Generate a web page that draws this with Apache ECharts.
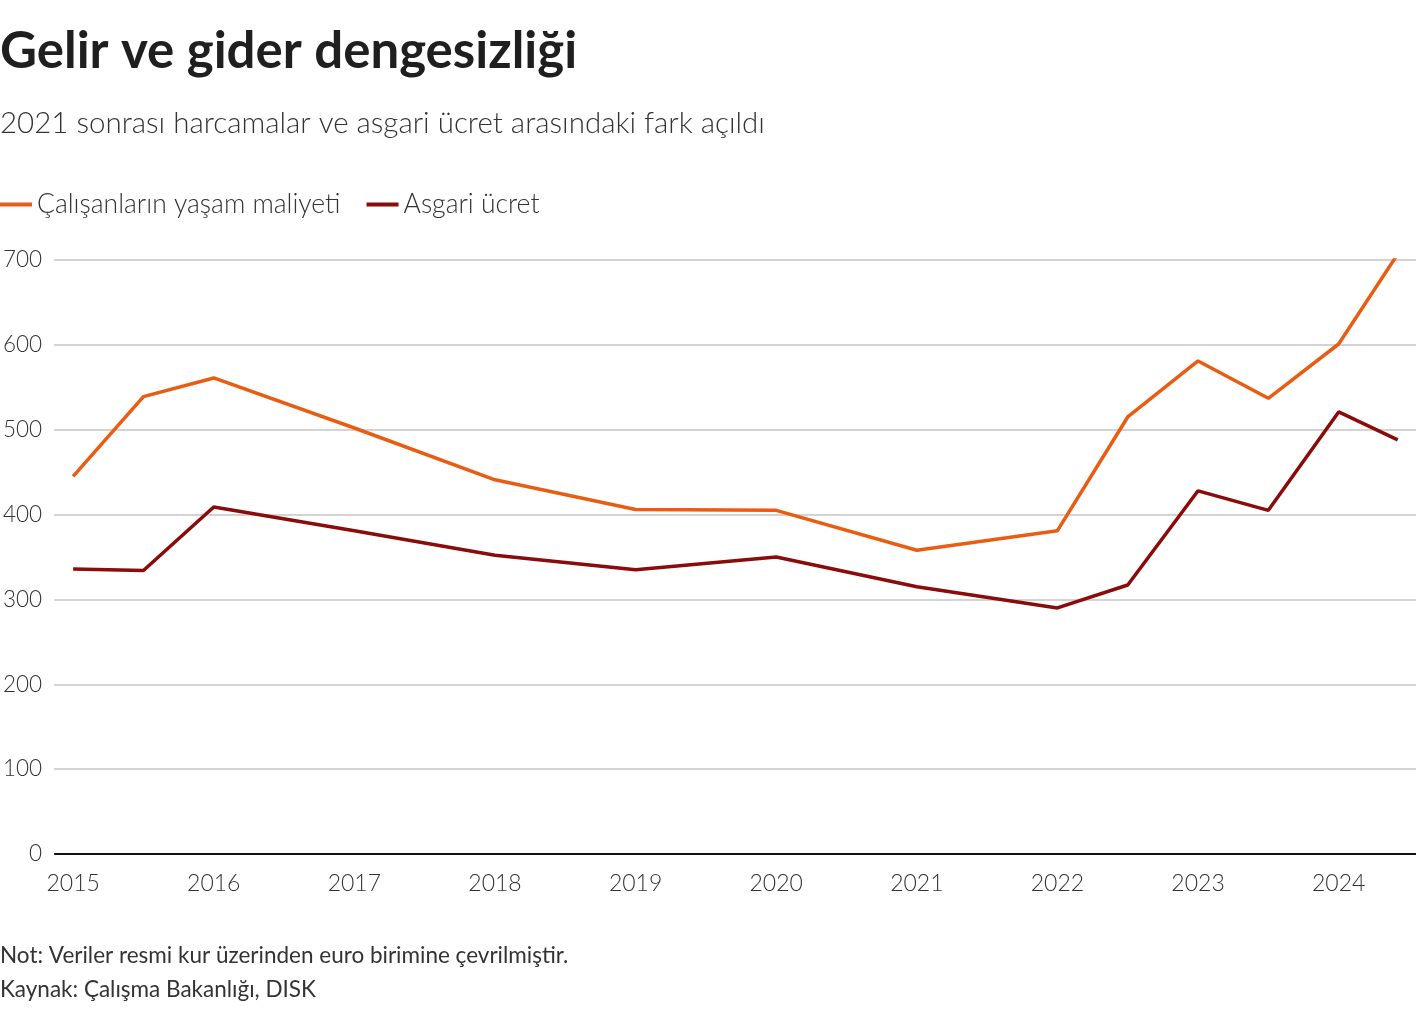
<!DOCTYPE html>
<html>
<head>
<meta charset="utf-8">
<script src="https://cdn.jsdelivr.net/npm/echarts@6/dist/echarts.min.js"></script>
<style>
  html, body { margin: 0; padding: 0; background: #fff; }
  #chart { width: 1420px; height: 1010px; }
</style>
</head>
<body>
<div id="chart"></div>
<script>
// decimal years of each observation
const periods = [2015, 2015.5, 2016, 2017, 2018, 2019, 2020, 2021, 2022, 2022.5, 2023, 2023.5, 2024, 2024.42]
const livingCost = [445, 539, 561, 502, 441, 406, 405, 358, 381, 515, 581, 537, 601, 707]
const minWage = [336, 334, 409, 381, 352, 335, 350, 315, 290, 317, 428, 405, 521, 488]
const yearTicks = [2015, 2016, 2017, 2018, 2019, 2020, 2021, 2022, 2023, 2024]

const font = 'Lato, "Noto Sans", sans-serif'
const chart = echarts.init(document.getElementById('chart'))

function pairs(vals) {
  return periods.map((p, i) => [p, vals[i]])
}

chart.setOption({
  animation: false,
  textStyle: { fontFamily: font },
  title: [
    {
      text: 'Gelir ve gider dengesizliği',
      left: 0, top: 26, padding: 0,
      textStyle: { fontSize: 51, fontWeight: 'bold', color: '#1f1f1f', fontFamily: font },
    },
    {
      text: '2021 sonrası harcamalar ve asgari ücret arasındaki fark açıldı',
      left: 0, top: 108, padding: 0,
      textStyle: { fontSize: 29.5, fontWeight: 300, color: '#333', fontFamily: font },
    },
    {
      text: 'Not: Veriler resmi kur üzerinden euro birimine çevrilmiştir.',
      left: 0, top: 944, padding: 0,
      textStyle: { fontSize: 22.5, fontWeight: 'normal', color: '#333', fontFamily: font },
    },
    {
      text: 'Kaynak: Çalışma Bakanlığı, DISK',
      left: 0, top: 978, padding: 0,
      textStyle: { fontSize: 22.5, fontWeight: 'normal', color: '#333', fontFamily: font },
    },
  ],
  legend: {
    left: 0, top: 191, padding: 0,
    itemWidth: 32, itemHeight: 4, itemGap: 26,
    icon: 'rect',
    textStyle: { fontSize: 26.5, fontWeight: 300, color: '#333', fontFamily: font },
  },
  grid: { left: 52, right: 4, top: 260, bottom: 156 },
  xAxis: {
    type: 'value',
    min: 2014.865,
    max: 2024.55,
    splitLine: { show: false },
    axisLine: { show: false },
    axisTick: { show: false },
    axisLabel: {
      customValues: yearTicks,
      formatter: (v) => String(v),
      fontSize: 23, fontWeight: 300, color: '#333', margin: 18,
    },
  },
  yAxis: {
    type: 'value',
    min: 0, max: 700, interval: 100,
    axisLine: { show: false },
    axisTick: { show: false },
    splitLine: { lineStyle: { color: '#c4c4c4', width: 1.5 } },
    axisLabel: { fontSize: 22.5, fontWeight: 300, color: '#333', margin: 12 },
  },
  series: [
    {
      name: 'Çalışanların yaşam maliyeti',
      type: 'line',
      data: pairs(livingCost),
      showSymbol: false,
      lineStyle: { width: 3.5, color: '#e85d12' },
      itemStyle: { color: '#e85d12' },
      z: 3,
    },
    {
      name: 'Asgari ücret',
      type: 'line',
      data: pairs(minWage),
      showSymbol: false,
      lineStyle: { width: 3.5, color: '#8b0a0a' },
      itemStyle: { color: '#8b0a0a' },
      z: 3,
      markLine: {
        silent: true,
        symbol: 'none',
        label: { show: false },
        lineStyle: { color: '#111', width: 2, type: 'solid' },
        data: [{ yAxis: 0 }],
      },
    },
  ],
})
</script>
</body>
</html>
